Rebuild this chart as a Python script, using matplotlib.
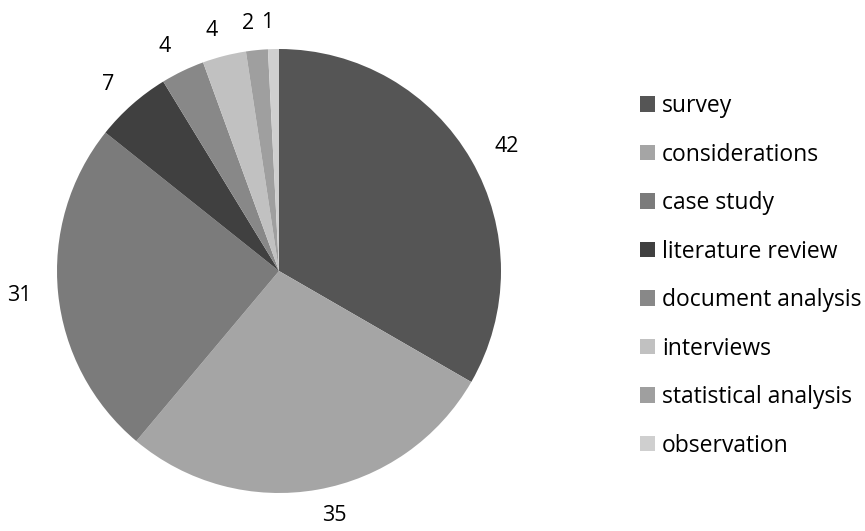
import matplotlib.pyplot as plt
from matplotlib.patches import Patch

labels = ["survey", "considerations", "case study", "literature review",
          "document analysis", "interviews", "statistical analysis", "observation"]
values = [42, 35, 31, 7, 4, 4, 2, 1]
colors = ["#555555", "#a5a5a5", "#7b7b7b", "#404040",
          "#888888", "#c1c1c1", "#9f9f9f", "#cfcfcf"]

plt.rcParams['font.family'] = ['Open Sans', 'DejaVu Sans']

fig = plt.figure(figsize=(8.65, 5.31), dpi=100)
W, H = 865, 531
cx, cy, r = 279, 271, 222
ax = fig.add_axes([(cx - r) / W, (H - cy - r) / H, 2 * r / W, 2 * r / H])

ax.pie(values, colors=colors, startangle=90, counterclock=False,
       labels=[str(v) for v in values], labeldistance=1.12,
       textprops=dict(fontsize=15.5, color="#000000"),
       wedgeprops=dict(linewidth=0))
ax.set_xlim(-1, 1)
ax.set_ylim(-1, 1)
ax.set_aspect('equal')

handles = [Patch(facecolor=c, label=l) for c, l in zip(colors, labels)]
fig.legend(handles=handles, loc='upper left', bbox_to_anchor=(640 / W, 1 - 94 / H),
           frameon=False, fontsize=16.5, handlelength=0.65, handleheight=0.65,
           handletextpad=0.3, labelspacing=1.07, borderaxespad=0, borderpad=0)

fig.savefig("out.png", dpi=100)
